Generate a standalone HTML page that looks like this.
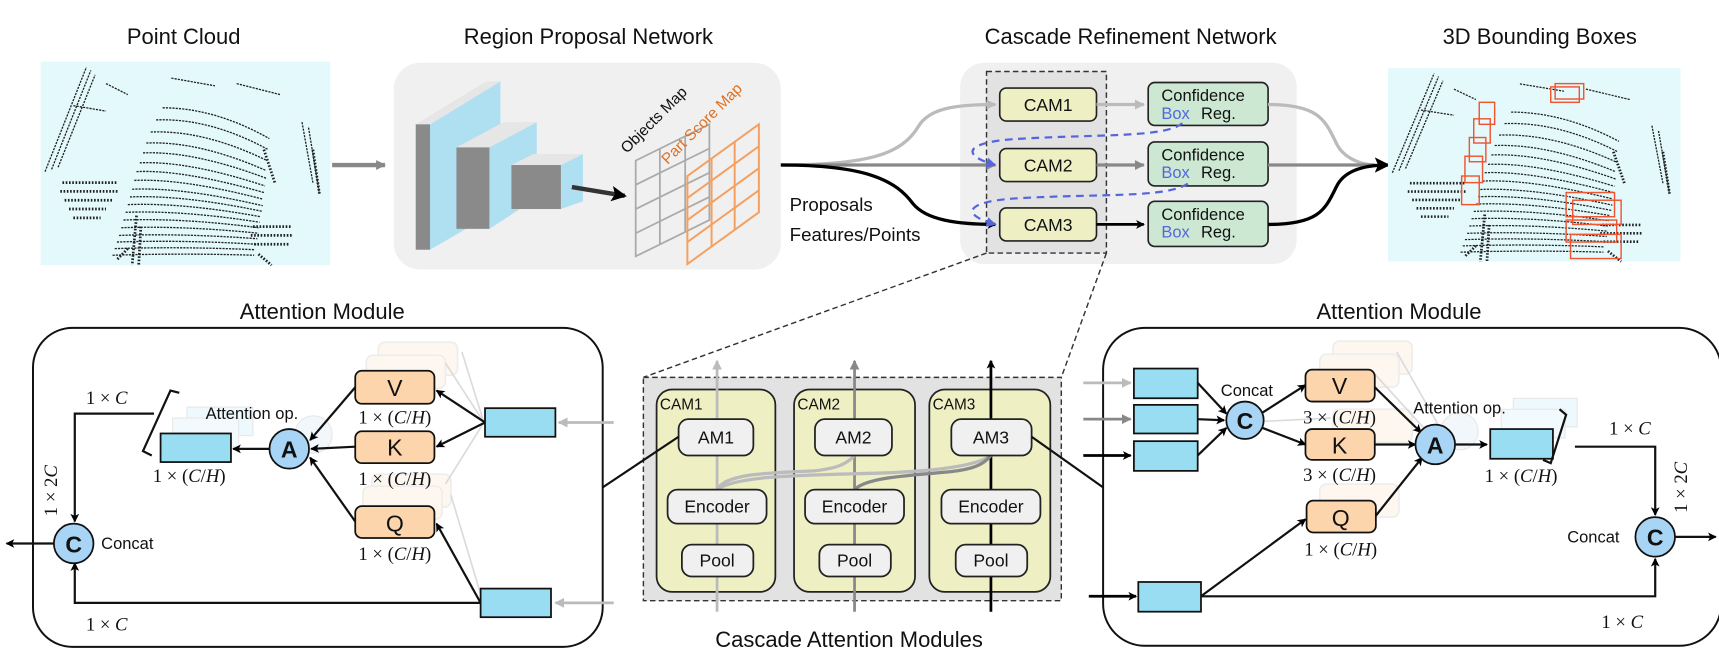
<!DOCTYPE html>
<html><head><meta charset="utf-8"><style>
html,body{margin:0;padding:0;background:#fff;}
svg{display:block;}
text{font-family:"Liberation Sans",sans-serif;fill:#111;}
g.m text{font-family:"Liberation Serif",serif;font-size:17px;}
.i{font-style:italic;}
</style></head><body>
<svg width="1719" height="670" viewBox="0 0 1563 609" preserveAspectRatio="none" xmlns="http://www.w3.org/2000/svg">
<defs>
<marker id="ak" markerWidth="8" markerHeight="8" refX="7" refY="4" orient="auto" markerUnits="userSpaceOnUse"><path d="M0,0 L8,4 L0,8 L2,4z" fill="#000"/></marker>
<marker id="ag" markerWidth="9" markerHeight="9" refX="8" refY="4.5" orient="auto" markerUnits="userSpaceOnUse"><path d="M0,0 L9,4.5 L0,9z" fill="#888"/></marker>
<marker id="al" markerWidth="9" markerHeight="9" refX="8" refY="4.5" orient="auto" markerUnits="userSpaceOnUse"><path d="M0,0 L9,4.5 L0,9z" fill="#bbb"/></marker>
<marker id="ab" markerWidth="9" markerHeight="9" refX="8" refY="4.5" orient="auto" markerUnits="userSpaceOnUse"><path d="M0,0 L9,4.5 L0,9z" fill="#5566dd"/></marker>
<marker id="aK" markerWidth="14" markerHeight="14" refX="12" refY="7" orient="auto" markerUnits="userSpaceOnUse"><path d="M0,0 L14,7 L0,14 L3,7z" fill="#000"/></marker>
<g id="pc">
<rect x="0" y="0" width="266" height="185" fill="#e4f9fb"/>
<g fill="none" stroke="#222" stroke-width="1.2" stroke-dasharray="2 1">
<path d="M66,176 Q130,174 196,176"/><path d="M68,170 Q130,168 197,171"/><path d="M70,164 Q130,162 198,166"/><path d="M72,158 Q130,156 199,161"/><path d="M74,151 Q130,149 200,156"/><path d="M76,144 Q130,142 200,151"/><path d="M78,137 Q130,135 201,146"/><path d="M80,130 Q130,128 202,141"/><path d="M82,123 Q130,121 203,136"/><path d="M84,116 Q130,114 204,131"/><path d="M86,108 Q130,106 204,125"/><path d="M88,100 Q130,98 205,119"/><path d="M91,92 Q135,90 206,113"/><path d="M94,83 Q140,81 207,106"/><path d="M97,74 Q145,72 207,99"/><path d="M101,64 Q150,62 208,90"/><path d="M106,53 Q155,51 209,80"/><path d="M112,42 Q160,42 210,70"/>
<path d="M4,100 L42,5"/><path d="M10,98 L46,8"/><path d="M16,96 L50,12"/><path d="M240,55 L250,110"/><path d="M246,60 L256,120"/>
<path d="M60,20 L80,30 M120,15 L160,22 M180,20 L220,30 M30,40 L60,45"/>
</g>
<g fill="none" stroke="#222" stroke-width="2.5" stroke-dasharray="1.5 1.5">
<path d="M20,110 L70,110 M18,118 L72,118 M22,126 L66,126 M26,134 L60,134 M30,142 L55,142"/>
<path d="M88,140 L84,185 M92,150 L90,185 M80,170 L70,180"/>
<path d="M195,150 L230,150 M193,158 L232,158 M196,166 L228,166 M200,175 L212,185"/>
<path d="M205,80 L215,110 M250,80 L256,120"/>
</g>
</g>
<g id="gh"><rect x="0" y="0" width="72" height="30" rx="6" fill="#fce9d6" stroke="#ccc" stroke-width="1.5"/></g>
</defs>

<g font-size="20" text-anchor="middle">
<text x="167" y="40">Point Cloud</text>
<text x="535" y="40">Region Proposal Network</text>
<text x="1028" y="40">Cascade Refinement Network</text>
<text x="1400" y="40">3D Bounding Boxes</text>
<text x="293" y="290">Attention Module</text>
<text x="1272" y="290">Attention Module</text>
<text x="772" y="588">Cascade Attention Modules</text>
</g>

<use href="#pc" transform="translate(37,56) scale(0.99,1.0)"/>
<path d="M302,150 L350,150" stroke="#888" stroke-width="4" marker-end="url(#ag)"/>

<rect x="358" y="57" width="352" height="188" rx="24" fill="#f0f0f0"/>
<polygon points="391,113 455,74 455,190 391,227" fill="#aee0f2"/>
<polygon points="378,113 391,113 455,74 442,74" fill="#e6e6e6"/>
<rect x="378" y="113" width="13" height="114" fill="#8a8a8a"/>
<polygon points="445,134 488,111 488,180 445,208" fill="#aee0f2"/>
<polygon points="415,134 445,134 488,111 458,111" fill="#e6e6e6"/>
<rect x="415" y="134" width="30" height="74" fill="#8a8a8a"/>
<polygon points="510,150 530,140 530,183 510,190" fill="#aee0f2"/>
<polygon points="465,150 510,150 530,140 485,140" fill="#e6e6e6"/>
<rect x="465" y="150" width="45" height="40" fill="#8a8a8a"/>
<path d="M520,170 L568,178" stroke="#333" stroke-width="4" marker-end="url(#aK)"/>
<g stroke="#aaa" stroke-width="1.6" fill="none">
<path d="M578,146 L645,113 L645,200 L578,233 Z"/>
<path d="M600,135 L600,222 M623,124 L623,211 M578,168 L645,135 M578,190 L645,157 M578,212 L645,179"/>
</g>
<g stroke="#f5a060" stroke-width="1.8" fill="none">
<path d="M625,160 L690,113 L690,193 L625,240 Z"/>
<path d="M647,144 L647,224 M668,129 L668,209 M625,180 L690,133 M625,200 L690,153 M625,220 L690,173"/>
</g>
<text x="0" y="0" font-size="14" transform="translate(570,140) rotate(-45)">Objects Map</text>
<text x="0" y="0" font-size="14" style="fill:#e07020" transform="translate(607,150) rotate(-45)">Part Score Map</text>

<text x="718" y="192" font-size="17">Proposals</text>
<text x="718" y="219" font-size="17">Features/Points</text>

<rect x="873" y="57" width="306" height="183" rx="22" fill="#f0f0f0"/>
<rect x="897" y="65" width="109" height="165" fill="#e2e2e2" stroke="#333" stroke-width="1.3" stroke-dasharray="5 3"/>
<path d="M710,150 C790,150 820,140 835,115 C845,98 870,95 905,95" fill="none" stroke="#bbb" stroke-width="3" marker-end="url(#al)"/>
<path d="M710,150 L905,150" stroke="#888" stroke-width="3" marker-end="url(#ag)"/>
<path d="M710,150 C790,150 815,165 830,185 C842,200 870,204 905,204" fill="none" stroke="#000" stroke-width="3" marker-end="url(#ak)"/>
<g stroke="#222" stroke-width="1.5">
<rect x="909" y="80" width="88" height="30" rx="6" fill="#eef0c4"/>
<rect x="909" y="135" width="88" height="30" rx="6" fill="#eef0c4"/>
<rect x="909" y="189" width="88" height="30" rx="6" fill="#eef0c4"/>
<rect x="1044" y="75" width="109" height="39" rx="6" fill="#cde8d2"/>
<rect x="1044" y="129" width="109" height="40" rx="6" fill="#cde8d2"/>
<rect x="1044" y="183" width="109" height="41" rx="6" fill="#cde8d2"/>
</g>
<g font-size="16" text-anchor="middle"><text x="953" y="101">CAM1</text><text x="953" y="156">CAM2</text><text x="953" y="210">CAM3</text></g>
<g font-size="15">
<text x="1056" y="92">Confidence</text><text x="1056" y="108" style="fill:#5566dd">Box</text><text x="1092" y="108">Reg.</text>
<text x="1056" y="146">Confidence</text><text x="1056" y="162" style="fill:#5566dd">Box</text><text x="1092" y="162">Reg.</text>
<text x="1056" y="200">Confidence</text><text x="1056" y="216" style="fill:#5566dd">Box</text><text x="1092" y="216">Reg.</text>
</g>
<path d="M997,95 L1040,95" stroke="#bbb" stroke-width="3" marker-end="url(#al)"/>
<path d="M997,150 L1040,150" stroke="#888" stroke-width="3" marker-end="url(#ag)"/>
<path d="M997,204 L1040,204" stroke="#000" stroke-width="2.5" marker-end="url(#ak)"/>
<path d="M1075,112 C1060,125 1000,122 930,126 C880,128 870,140 905,150" fill="none" stroke="#5566dd" stroke-width="2" stroke-dasharray="7 5" marker-end="url(#ab)"/>
<path d="M1080,167 C1060,180 1000,176 930,180 C880,182 870,194 905,204" fill="none" stroke="#5566dd" stroke-width="2" stroke-dasharray="7 5" marker-end="url(#ab)"/>
<path d="M1153,95 C1200,95 1205,110 1215,130 C1222,145 1240,150 1250,150" fill="none" stroke="#bbb" stroke-width="3"/>
<path d="M1153,150 L1250,150" stroke="#888" stroke-width="3"/>
<path d="M1153,204 C1200,204 1205,190 1215,170 C1222,155 1240,150 1262,150" fill="none" stroke="#000" stroke-width="3" marker-end="url(#aK)"/>

<use href="#pc" transform="translate(1262,62) scale(1,0.95)"/>
<g fill="none" stroke="#ee5530" stroke-width="1.3">
<rect x="1345" y="93" width="14" height="20"/><rect x="1340" y="108" width="15" height="22"/><rect x="1336" y="125" width="15" height="22"/><rect x="1332" y="142" width="16" height="24"/><rect x="1329" y="160" width="16" height="26"/>
<rect x="1410" y="79" width="26" height="14"/><rect x="1414" y="76" width="26" height="14"/>
<rect x="1424" y="175" width="44" height="22"/><rect x="1430" y="182" width="44" height="22"/><rect x="1424" y="200" width="46" height="20"/><rect x="1428" y="213" width="46" height="22"/>
</g>

<path d="M897,230 L585,343 M1006,230 L965,343" stroke="#333" stroke-width="1.3" stroke-dasharray="5 3" fill="none"/>

<rect x="585" y="343" width="380" height="203" fill="#e2e2e2" stroke="#333" stroke-width="1.3" stroke-dasharray="5 3"/>
<g stroke="#222" stroke-width="1.6" fill="#eef0c4">
<rect x="597" y="354" width="108" height="184" rx="14"/>
<rect x="722" y="354" width="110" height="184" rx="14"/>
<rect x="845" y="354" width="110" height="184" rx="14"/>
</g>
<g font-size="14"><text x="600" y="372">CAM1</text><text x="725" y="372">CAM2</text><text x="848" y="372">CAM3</text></g>
<path d="M652,556 L652,328" stroke="#bbb" stroke-width="2.5" marker-end="url(#al)"/>
<path d="M777,556 L777,328" stroke="#888" stroke-width="2.5" marker-end="url(#ag)"/>
<path d="M901,556 L901,328" stroke="#000" stroke-width="2.5" marker-end="url(#ak)"/>
<path d="M652,445 C660,430 700,430 740,428 C760,426 770,422 777,414" fill="none" stroke="#bbb" stroke-width="3"/>
<path d="M652,445 C670,432 730,432 800,430 C860,428 890,422 901,414" fill="none" stroke="#bbb" stroke-width="3"/>
<path d="M777,445 C790,432 840,432 870,428 C890,425 896,420 901,414" fill="none" stroke="#888" stroke-width="3"/>
<g stroke="#222" stroke-width="1.6" fill="#f0f0f0">
<rect x="617" y="381" width="68" height="33" rx="9"/><rect x="741" y="381" width="70" height="33" rx="9"/><rect x="865" y="381" width="73" height="33" rx="9"/>
<rect x="607" y="445" width="90" height="31" rx="9"/><rect x="732" y="445" width="90" height="31" rx="9"/><rect x="856" y="445" width="90" height="31" rx="9"/>
<rect x="620" y="495" width="65" height="29" rx="9"/><rect x="745" y="495" width="65" height="29" rx="9"/><rect x="869" y="495" width="65" height="29" rx="9"/>
</g>
<g font-size="16" text-anchor="middle">
<text x="651" y="403">AM1</text><text x="776" y="403">AM2</text><text x="901" y="403">AM3</text>
<text x="652" y="466">Encoder</text><text x="777" y="466">Encoder</text><text x="901" y="466">Encoder</text>
<text x="652" y="515">Pool</text><text x="777" y="515">Pool</text><text x="901" y="515">Pool</text>
</g>
<path d="M617,397 L548,443 M938,397 L1003,443" stroke="#111" stroke-width="2" fill="none"/>

<rect x="30" y="298" width="518" height="290" rx="36" fill="none" stroke="#111" stroke-width="1.8"/>
<g opacity="0.35">
<use href="#gh" transform="translate(344,311)"/><use href="#gh" transform="translate(333,323)"/>
<use href="#gh" transform="translate(338,431)"/><use href="#gh" transform="translate(330,442)"/>
<rect x="170" y="370" width="60" height="26" fill="#cfeefa" stroke="#bbb"/><rect x="157" y="380" width="60" height="26" fill="#dff3fb" stroke="#bbb"/>
<circle cx="285" cy="395" r="17" fill="#dbe9f5" stroke="#bbb"/>
<path d="M440,384 L405,330 M440,384 L420,320 M440,384 L405,440 M437,540 L410,450" stroke="#999" stroke-width="1.5"/>
</g>
<path d="M558,384 L508,384" stroke="#bbb" stroke-width="2.5" marker-end="url(#al)"/>
<path d="M558,548 L505,548" stroke="#bbb" stroke-width="2.5" marker-end="url(#al)"/>
<rect x="441" y="371" width="64" height="26" fill="#99ddf2" stroke="#111" stroke-width="1.6"/>
<rect x="437" y="535" width="64" height="26" fill="#99ddf2" stroke="#111" stroke-width="1.6"/>
<g stroke="#111" stroke-width="2" fill="none">
<path d="M441,384 L397,355" marker-end="url(#ak)"/>
<path d="M441,384 L397,406" marker-end="url(#ak)"/>
<path d="M437,548 L397,476" marker-end="url(#ak)"/>
<path d="M323,352 L282,400" marker-end="url(#ak)"/>
<path d="M323,406 L283,408" marker-end="url(#ak)"/>
<path d="M323,474 L282,416" marker-end="url(#ak)"/>
<path d="M245,408 L212,408" marker-end="url(#ak)"/>
<path d="M437,548 L68,548 L68,512" marker-end="url(#ak)"/>
<path d="M140,376 L68,376 L68,474" marker-end="url(#ak)"/>
<path d="M50,494 L6,494" marker-end="url(#ak)"/>
<path d="M163,357 L155,355 L130,410 L138,414"/>
</g>
<g stroke="#111" stroke-width="1.6">
<rect x="323" y="337" width="72" height="30" rx="6" fill="#fcd5ad"/>
<rect x="323" y="392" width="72" height="29" rx="6" fill="#fcd5ad"/>
<rect x="323" y="460" width="72" height="29" rx="6" fill="#fcd5ad"/>
<rect x="146" y="394" width="64" height="26" fill="#99ddf2"/>
<circle cx="263" cy="408" r="18" fill="#a8d4f5"/>
<circle cx="67" cy="494" r="18" fill="#a8d4f5"/>
</g>
<g font-size="21" text-anchor="middle"><text x="359" y="360">V</text><text x="359" y="414">K</text><text x="359" y="483">Q</text>
<text x="263" y="416" font-weight="bold">A</text><text x="67" y="502" font-weight="bold">C</text></g>
<text x="187" y="381" font-size="15">Attention op.</text>
<text x="92" y="499" font-size="15">Concat</text>
<g class="m" text-anchor="middle">
<text x="359" y="385">1 × (<tspan class="i">C</tspan>/<tspan class="i">H</tspan>)</text>
<text x="359" y="441">1 × (<tspan class="i">C</tspan>/<tspan class="i">H</tspan>)</text>
<text x="359" y="509">1 × (<tspan class="i">C</tspan>/<tspan class="i">H</tspan>)</text>
<text x="172" y="438">1 × (<tspan class="i">C</tspan>/<tspan class="i">H</tspan>)</text>
<text x="97" y="367">1 × <tspan class="i">C</tspan></text>
<text x="97" y="573">1 × <tspan class="i">C</tspan></text>
<text x="0" y="0" transform="translate(52,446) rotate(-90)">1 × 2<tspan class="i">C</tspan></text>
</g>

<rect x="1003" y="298" width="562" height="289" rx="38" fill="none" stroke="#111" stroke-width="1.8"/>
<g opacity="0.35">
<use href="#gh" transform="translate(1212,310)"/><use href="#gh" transform="translate(1200,322)"/>
<use href="#gh" transform="translate(1212,372)"/>
<use href="#gh" transform="translate(1200,440)"/>
<rect x="1376" y="362" width="58" height="26" fill="#cfeefa" stroke="#bbb"/><rect x="1365" y="372" width="58" height="26" fill="#dff3fb" stroke="#bbb"/>
<circle cx="1327" cy="392" r="17" fill="#dbe9f5" stroke="#bbb"/>
<path d="M1250,340 L1300,395 M1270,320 L1310,390 M1150,383 L1210,380" stroke="#999" stroke-width="1.5"/>
</g>
<path d="M985,348 L1028,348" stroke="#bbb" stroke-width="2.5" marker-end="url(#al)"/>
<path d="M985,381 L1028,381" stroke="#888" stroke-width="2.5" marker-end="url(#ag)"/>
<path d="M985,414 L1028,414" stroke="#000" stroke-width="2.5" marker-end="url(#ak)"/>
<path d="M990,542 L1033,542" stroke="#000" stroke-width="2.5" marker-end="url(#ak)"/>
<g stroke="#111" stroke-width="1.6" fill="#99ddf2">
<rect x="1031" y="335" width="58" height="27"/><rect x="1031" y="368" width="58" height="26"/><rect x="1031" y="401" width="58" height="27"/>
<rect x="1035" y="529" width="57" height="27"/>
<rect x="1355" y="390" width="57" height="27"/>
</g>
<g stroke="#111" stroke-width="2" fill="none">
<path d="M1089,348 L1115,376" marker-end="url(#ak)"/>
<path d="M1089,381 L1113,382" marker-end="url(#ak)"/>
<path d="M1089,414 L1115,389" marker-end="url(#ak)"/>
<path d="M1148,375 L1187,350" marker-end="url(#ak)"/>
<path d="M1148,389 L1187,404" marker-end="url(#ak)"/>
<path d="M1250,352 L1292,393" marker-end="url(#ak)"/>
<path d="M1250,404 L1287,404" marker-end="url(#ak)"/>
<path d="M1250,470 L1293,416" marker-end="url(#ak)"/>
<path d="M1092,542 L1187,472" marker-end="url(#ak)"/>
<path d="M1323,404 L1352,404" marker-end="url(#ak)"/>
<path d="M1092,542 L1505,542 L1505,508" marker-end="url(#ak)"/>
<path d="M1432,406 L1505,406 L1505,468" marker-end="url(#ak)"/>
<path d="M1418,372 L1424,377 L1410,421 L1403,418"/>
<path d="M1500,488 L1500,488"/>
<path d="M1523,488 L1560,488" marker-end="url(#ak)"/>
</g>
<g stroke="#111" stroke-width="1.6">
<rect x="1187" y="336" width="63" height="29" rx="6" fill="#fcd5ad"/>
<rect x="1187" y="390" width="63" height="28" rx="6" fill="#fcd5ad"/>
<rect x="1188" y="455" width="63" height="29" rx="6" fill="#fcd5ad"/>
<circle cx="1132" cy="382" r="17" fill="#a8d4f5"/>
<circle cx="1305" cy="404" r="18" fill="#a8d4f5"/>
<circle cx="1505" cy="488" r="18" fill="#a8d4f5"/>
</g>
<g font-size="21" text-anchor="middle"><text x="1218" y="358">V</text><text x="1218" y="412">K</text><text x="1219" y="478">Q</text>
<text x="1132" y="390" font-weight="bold">C</text><text x="1305" y="412" font-weight="bold">A</text><text x="1505" y="496" font-weight="bold">C</text></g>
<text x="1110" y="360" font-size="15">Concat</text>
<text x="1285" y="376" font-size="15">Attention op.</text>
<text x="1425" y="493" font-size="15">Concat</text>
<g class="m" text-anchor="middle">
<text x="1218" y="385">3 × (<tspan class="i">C</tspan>/<tspan class="i">H</tspan>)</text>
<text x="1218" y="437">3 × (<tspan class="i">C</tspan>/<tspan class="i">H</tspan>)</text>
<text x="1219" y="505">1 × (<tspan class="i">C</tspan>/<tspan class="i">H</tspan>)</text>
<text x="1383" y="438">1 × (<tspan class="i">C</tspan>/<tspan class="i">H</tspan>)</text>
<text x="1482" y="395">1 × <tspan class="i">C</tspan></text>
<text x="1475" y="571">1 × <tspan class="i">C</tspan></text>
<text x="0" y="0" transform="translate(1534,443) rotate(-90)">1 × 2<tspan class="i">C</tspan></text>
</g>
</svg>
</body></html>
